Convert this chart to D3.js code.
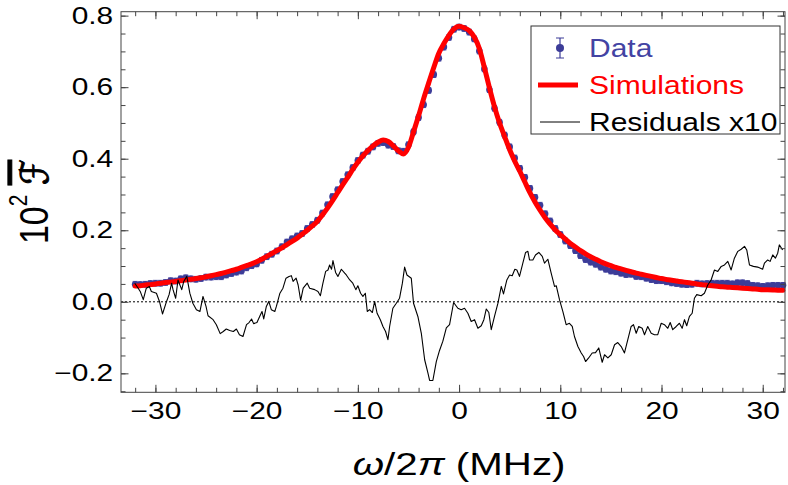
<!DOCTYPE html>
<html>
<head>
<meta charset="utf-8">
<script src="https://cdn.jsdelivr.net/npm/d3@7"></script>
<style>
  body { margin: 0; background: #fff; }
  svg { display: block; font-family: "Liberation Sans", Arial, sans-serif; }
</style>
</head>
<body>
<svg width="788" height="485"></svg>
<script>
// detuning grid of the measured points (MHz)
const freq = d3.range(-32, 32.001, 0.5);

// simulated spectrum, 10^2 F
const simulation = [
  .044,.045,.047,.048,.050,.052,.054,.055,.057,.059,.061,.063,.065,.067,.070,.073,.076,.079,.083,.087,.091,.096,.101,.106,.112,
  .119,.127,.135,.143,.151,.160,.169,.178,.189,.200,.212,.225,.243,.262,.283,.305,.327,.348,.370,.390,
  .408,.423,.436,.446,.452,.448,.436,.422,.413,.432,.475,.520,.568,.612,.655,.695,.722,.745,.763,.770,
  .766,.758,.740,.708,.655,.598,.545,.500,.462,.425,.393,.365,.335,.305,.279,.256,.235,.217,.201,.188,
  .175,.163,.153,.143,.134,.126,.119,.112,.106,.101,.096,.092,.088,.084,.080,.077,.074,.071,.068,.065,
  .0625,.060,.058,.056,.054,.052,.050,.048,.0465,.045,.0435,.042,.041,.040,.039,.038,.037,.036,.035,.034,.0335,.033,.0325,.032
];

// measured spectrum, 10^2 F
const measured = [
  .049,.048,.049,.051,.052,.052,.054,.059,.058,.064,.067,.064,.063,.065,.069,.069,.070,.070,.075,.079,.083,.086,.095,.101,.106,
  .116,.126,.133,.142,.154,.167,.176,.184,.191,.205,.216,.228,.248,.271,.294,.313,.336,.355,.375,.395,
  .410,.421,.433,.443,.445,.438,.434,.422,.421,.439,.475,.515,.551,.591,.635,.681,.712,.739,.762,.768,
  .764,.754,.735,.701,.651,.593,.541,.502,.466,.433,.402,.373,.348,.317,.292,.270,.246,.226,.205,.188,
  .170,.157,.143,.129,.118,.111,.105,.097,.091,.086,.084,.080,.076,.077,.071,.070,.066,.062,.059,.059,
  .056,.053,.051,.049,.048,.049,.052,.050,.051,.052,.052,.052,.052,.050,.053,.053,.051,.046,.045,.043,.045,.046,.046,.046
];
const errBar = 0.008;

// residuals x10
const resFreq = [
  -32.04,-31.7,-31.5,-31.2,-30.9,-30.6,-30.4,-29.9,-29.6,-29.3,-28.9,-28.65,-28.4,-28.26,-28.0,-27.77,-27.4,-27.2,-26.9,-26.6,
  -26.3,-25.95,-25.6,-25.3,-25.0,-24.8,-24.3,-23.98,-23.6,-23.3,-23.0,-22.66,-22.3,-22.0,-21.7,-21.35,-21.0,-20.75,-20.5,-20.3,
  -19.97,-19.7,-19.47,-19.3,-19.04,-18.8,-18.55,-18.2,-18.05,-17.7,-17.4,-17.1,-16.8,-16.57,-16.4,-16.1,-15.9,-15.65,-15.4,-15.0,
  -14.76,-14.27,-13.94,-13.7,-13.45,-13.18,-12.95,-12.79,-12.6,-12.46,-12.2,-11.97,-11.63,-11.3,-11.14,-10.8,-10.5,-10.2,-10.0,-9.73,
  -9.5,-9.26,-9.07,-8.84,-8.57,-8.34,-8.1,-7.78,-7.52,-7.26,-7.03,-6.86,-6.54,-6.2,-5.88,-5.6,-5.38,-5.15,-4.72,-4.5,
  -4.07,-3.73,-3.4,-3.08,-2.91,-2.59,-2.25,-1.93,-1.6,-1.26,-0.94,-0.54,-0.12,0.21,0.54,0.87,1.2,1.53,1.86,2.19,
  2.45,2.69,2.94,3.18,3.5,3.84,4.17,4.39,4.72,4.99,5.25,5.51,5.71,5.97,6.3,6.57,6.8,6.96,7.29,7.55,
  7.88,8.22,8.44,8.77,9.1,9.43,9.6,9.92,10.25,10.58,10.9,11.18,11.4,11.74,12.07,12.3,12.5,12.8,13.15,13.48,
  13.8,14.14,14.37,14.7,15.03,15.36,15.68,16.02,16.34,16.67,17.0,17.23,17.5,17.75,18.09,18.32,18.64,18.98,19.3,19.63,
  19.97,20.29,20.62,20.86,21.11,21.45,21.77,22.04,22.27,22.49,22.76,23.03,23.25,23.48,23.92,24.24,24.57,24.9,25.23,25.56,
  25.9,26.22,26.55,26.88,27.2,27.54,27.87,28.2,28.42,28.69,29.08,29.5,29.99,30.17,30.49,30.73,30.99,31.25,31.48,31.64,31.97
];
const resVal = [
  0.052,0.038,0.029,0.006,0.038,0.043,0.029,0.024,0.001,-0.034,0.001,0.02,0.052,0.034,0.01,0.061,0.034,0.057,0.071,0.024,
  -0.004,-0.022,-0.027,0.015,-0.013,-0.039,-0.05,-0.064,-0.089,-0.083,-0.076,-0.080,-0.083,-0.076,-0.092,-0.097,-0.064,-0.058,-0.048,-0.061,
  -0.058,-0.041,-0.027,-0.048,-0.013,0.001,-0.022,-0.027,-0.013,0.024,0.038,0.066,0.071,0.073,0.057,0.066,0.047,0.004,0.038,0.052,
  0.038,0.034,0.029,0.017,0.052,0.085,0.089,0.103,0.091,0.115,0.082,0.071,0.091,0.080,0.075,0.061,0.052,0.034,0.045,0.024,
  0.015,0.024,-0.027,-0.022,-0.030,0.001,-0.032,-0.05,-0.069,-0.083,-0.106,-0.069,-0.018,-0.004,0.010,0.052,0.097,0.075,0.066,-0.004,
  -0.041,-0.088,-0.162,-0.199,-0.220,-0.220,-0.167,-0.136,-0.11,-0.073,-0.064,-0.002,-0.018,-0.022,-0.018,-0.032,-0.055,-0.05,-0.074,-0.067,
  -0.05,-0.02,-0.03,-0.078,-0.041,-0.004,0.043,0.022,0.061,0.075,0.073,0.091,0.089,0.071,0.108,0.138,0.141,0.117,0.117,0.131,
  0.138,0.127,0.108,0.119,0.080,0.043,0.045,0.006,-0.027,-0.064,-0.060,-0.069,-0.097,-0.125,-0.143,-0.153,-0.167,-0.157,-0.143,-0.142,
  -0.129,-0.169,-0.148,-0.157,-0.148,-0.12,-0.114,-0.125,-0.143,-0.106,-0.069,-0.064,-0.088,-0.069,-0.074,-0.092,-0.069,-0.088,-0.092,-0.092,
  -0.06,-0.064,-0.074,-0.058,-0.078,-0.069,-0.06,-0.074,-0.05,-0.067,-0.041,-0.032,0.010,0.020,0.017,0.024,0.047,0.061,0.089,0.085,
  0.099,0.103,0.113,0.089,0.122,0.141,0.147,0.155,0.145,0.103,0.099,0.097,0.091,0.108,0.117,0.113,0.131,0.122,0.136,0.159,0.145
];

const xMajor = [-30, -20, -10, 0, 10, 20, 30];
const xMinor = d3.range(-32, 33, 2);
const yMajor = [-0.2, 0, 0.2, 0.4, 0.6, 0.8];
const yMinor = d3.range(-0.25, 0.81, 0.05);

const svg = d3.select("svg");
const pLeft = 121, pRight = 785, pTop = 11.7, pBottom = 392.3;
const blue = "#3c3c98";

const x = d3.scaleLinear().domain([-33.4, 32.2]).range([pLeft, pRight]);
const y = d3.scaleLinear().domain([-0.253, 0.811]).range([pBottom, pTop]);

// zero line
svg.append("line")
  .attr("x1", pLeft).attr("x2", pRight)
  .attr("y1", y(0)).attr("y2", y(0))
  .attr("stroke", "#000").attr("stroke-width", 1)
  .attr("stroke-dasharray", "2,2");

// measured points with error bars
const pts = freq.map((f, i) => ({ f, v: measured[i] }));
svg.append("g").selectAll("path")
  .data(pts).enter().append("path")
  .attr("d", d => {
    const cx = x(d.f), y1 = y(d.v + errBar), y2 = y(d.v - errBar);
    return `M${cx},${y1}V${y2}M${cx - 2.5},${y1}H${cx + 2.5}M${cx - 2.5},${y2}H${cx + 2.5}`;
  })
  .attr("stroke", "#5a5aae").attr("stroke-width", 1).attr("fill", "none");
svg.append("g").selectAll("circle")
  .data(pts).enter().append("circle")
  .attr("cx", d => x(d.f)).attr("cy", d => y(d.v))
  .attr("r", 3.3).attr("fill", blue);

// simulation
svg.append("path")
  .datum(freq.map((f, i) => [f, simulation[i]]))
  .attr("fill", "none").attr("stroke", "#ff0000").attr("stroke-width", 5)
  .attr("stroke-linecap", "round")
  .attr("d", d3.line().x(d => x(d[0])).y(d => y(d[1])).curve(d3.curveMonotoneX));

// residuals x10
svg.append("path")
  .datum(resFreq.map((f, i) => [f, resVal[i]]))
  .attr("fill", "none").attr("stroke", "#000").attr("stroke-width", 1.1)
  .attr("stroke-linejoin", "round")
  .attr("d", d3.line().x(d => x(d[0])).y(d => y(d[1])));

// frame + ticks
const frameColor = "#444";
svg.append("rect")
  .attr("x", pLeft).attr("y", pTop)
  .attr("width", pRight - pLeft).attr("height", pBottom - pTop)
  .attr("fill", "none").attr("stroke", frameColor);

function addAxis(axis, tx, ty) {
  const g = svg.append("g").attr("transform", `translate(${tx},${ty})`)
    .attr("color", frameColor).call(axis);
  g.select(".domain").remove();
  g.selectAll("text").attr("fill", "#000").style("font-size", "23px")
    .attr("transform", "scale(1.3,1)");
  return g;
}
addAxis(d3.axisBottom(x).tickValues(xMinor).tickSize(-4.5).tickFormat(""), 0, pBottom);
addAxis(d3.axisBottom(x).tickValues(xMajor).tickSize(-7.5).tickPadding(10.5).tickFormat(d3.format("d")), 0, pBottom);
addAxis(d3.axisTop(x).tickValues(xMinor).tickSize(-4.5).tickFormat(""), 0, pTop);
addAxis(d3.axisTop(x).tickValues(xMajor).tickSize(-7.5).tickFormat(""), 0, pTop);
addAxis(d3.axisLeft(y).tickValues(yMinor).tickSize(-4.5).tickFormat(""), pLeft, 0);
addAxis(d3.axisLeft(y).tickValues(yMajor).tickSize(-7.5).tickPadding(6).tickFormat(d3.format(".1f")), pLeft, 0);
addAxis(d3.axisRight(y).tickValues(yMinor).tickSize(-4.5).tickFormat(""), pRight, 0);
addAxis(d3.axisRight(y).tickValues(yMajor).tickSize(-7.5).tickFormat(""), pRight, 0);

// axis titles
const xt = svg.append("text")
  .attr("transform", `translate(${x(0)},475) scale(1.3,1)`)
  .attr("text-anchor", "middle").style("font-size", "31px");
xt.append("tspan").style("font-style", "italic").text("ω");
xt.append("tspan").text("/2");
xt.append("tspan").style("font-style", "italic").text("π");
xt.append("tspan").text(" (MHz)");

const yt = svg.append("text")
  .attr("transform", `translate(34,${(pTop + pBottom) / 2}) rotate(-90) scale(1,1.2)`)
  .attr("text-anchor", "middle").attr("dominant-baseline", "central")
  .style("font-size", "34px");
yt.append("tspan").text("10");
yt.append("tspan").attr("dy", -13).style("font-size", "21px").text("2");
yt.append("tspan").attr("dy", 13).text("\u00a0");
yt.append("tspan").style("font-style", "italic").style("text-decoration", "overline")
  .style("font-family", "'DejaVu Sans', sans-serif").style("font-size", "32px")
  .attr("stroke", "#000").attr("stroke-width", 0.9).text("\u2131");

// legend
const lg = svg.append("g");
lg.append("rect").attr("x", 531).attr("y", 26).attr("width", 249).attr("height", 108)
  .attr("fill", "#fff").attr("stroke", "#333");
const legendItems = [
  { label: "Data", color: "#4343a3", cy: 48 },
  { label: "Simulations", color: "#ff0000", cy: 85 },
  { label: "Residuals x10", color: "#000", cy: 122 }
];
lg.append("path")
  .attr("d", "M560,38V58M556,38H564M556,58H564")
  .attr("stroke", blue).attr("stroke-width", 1.2).attr("fill", "none");
lg.append("circle").attr("cx", 560).attr("cy", 48).attr("r", 4).attr("fill", blue);
lg.append("line").attr("x1", 538).attr("x2", 578).attr("y1", 85).attr("y2", 85)
  .attr("stroke", "#ff0000").attr("stroke-width", 5);
lg.append("line").attr("x1", 540).attr("x2", 580).attr("y1", 122).attr("y2", 122)
  .attr("stroke", "#000").attr("stroke-width", 1);
lg.selectAll("text.lab").data(legendItems).enter().append("text")
  .attr("class", "lab")
  .attr("transform", d => `translate(589,${d.cy + 9}) scale(1.2,1)`)
  .attr("fill", d => d.color).style("font-size", "25px")
  .text(d => d.label);
</script>
</body>
</html>
